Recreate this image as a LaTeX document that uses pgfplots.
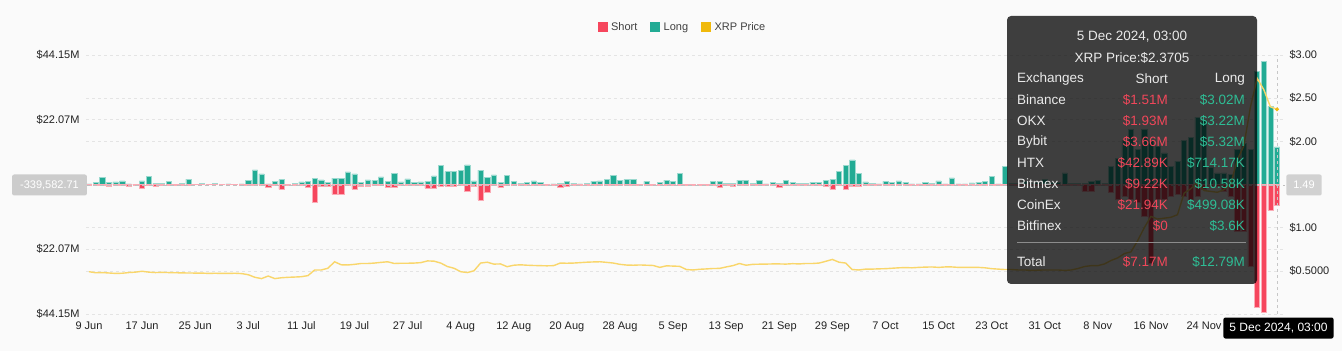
\documentclass[border=0pt]{standalone}
\usepackage{pgfplots}
\pgfplotsset{compat=1.18}
\usepackage{pgfplotstable}
\usepackage{fontspec}
\setmainfont{Liberation Sans}
\definecolor{shortc}{HTML}{F6465D}
\definecolor{longc}{HTML}{22AB94}
\definecolor{pricec}{HTML}{F9D66B}
\definecolor{pricelg}{HTML}{F0B90B}
\definecolor{bgc}{HTML}{FAFAFA}
\definecolor{gridc}{HTML}{E4E4E4}
\definecolor{tickc}{HTML}{222222}
\definecolor{tipred}{HTML}{F0475A}
\definecolor{tipgreen}{HTML}{2EBD95}
\definecolor{tiptext}{HTML}{EAEAEA}

\pgfplotstableread{
d long short price
0 0.25 -0.1 0.490
1 0.68 -0.2 0.478
2 2.4 -0.1 0.480
3 0.7 -0.45 0.475
4 0.9 -0.1 0.470
5 1.25 -0.1 0.472
6 0.25 -0.7 0.480
7 0.1 -0.1 0.485
8 1.25 -1.3 0.495
9 2.7 -0.15 0.485
10 0.3 -0.6 0.480
11 0.45 -0.1 0.482
12 1.1 -0.15 0.480
13 0.1 -0.1 0.478
14 0.45 -0.1 0.476
15 1.8 -0.1 0.475
16 0.1 -0.05 0.474
17 0.3 -0.05 0.474
18 0.1 -0.05 0.470
19 0.4 -0.05 0.472
20 0.15 -0.05 0.470
21 0.2 -0.05 0.470
22 0.15 -0.05 0.472
23 0.2 -0.1 0.468
24 1.36 -0.1 0.455
25 5.0 -0.2 0.425
26 3.6 -0.2 0.410
27 0.2 -0.8 0.440
28 1.13 -0.1 0.410
29 1.7 -1.6 0.420
30 0.1 -0.1 0.425
31 0.34 -0.1 0.428
32 0.9 -0.2 0.432
33 1.1 -1.0 0.445
34 2.2 -5.9 0.510
35 1.6 -0.6 0.510
36 0.7 -0.6 0.530
37 2.2 -3.4 0.605
38 2.0 -3.3 0.570
39 4.3 -0.4 0.568
40 3.6 -1.6 0.575
41 0.7 -0.6 0.585
42 1.6 -0.6 0.585
43 1.4 -0.4 0.590
44 2.6 -0.2 0.598
45 1.1 -0.8 0.605
46 3.9 -1.0 0.585
47 0.9 -0.4 0.588
48 1.9 -0.2 0.588
49 0.7 -0.2 0.590
50 0.9 -0.2 0.595
51 1.1 -1.2 0.615
52 2.9 -1.2 0.612
53 6.6 -0.5 0.590
54 4.4 -0.5 0.550
55 4.4 -0.7 0.530
56 4.9 -0.2 0.490
57 6.7 -2.4 0.480
58 1.2 -0.6 0.500
59 4.9 -5.2 0.590
60 2.4 -2.8 0.600
61 3.3 -0.2 0.578
62 0.7 -1.1 0.580
63 3.1 -0.2 0.548
64 1.1 -0.4 0.565
65 0.4 -0.3 0.570
66 0.8 -0.2 0.565
67 1.2 -0.2 0.562
68 0.7 -0.3 0.560
69 0.1 -0.1 0.558
70 0.2 -0.4 0.560
71 0.4 -1.1 0.590
72 1.1 -0.6 0.588
73 0.5 -0.1 0.590
74 0.2 -0.1 0.595
75 0.3 -0.4 0.600
76 1.1 -0.2 0.603
77 1.25 -0.1 0.605
78 1.7 -0.1 0.598
79 3.1 -0.2 0.590
80 1.5 -0.2 0.575
81 1.7 -0.1 0.567
82 1.7 -0.1 0.565
83 0.1 -0.1 0.568
84 1.1 -0.1 0.565
85 0.1 -0.3 0.562
86 0.8 -0.1 0.540
87 1.5 -0.2 0.558
88 1.1 -0.2 0.555
89 3.9 -0.1 0.552
90 0.1 -0.3 0.515
91 0.1 -0.3 0.510
92 0.1 -0.4 0.518
93 0.1 -0.1 0.522
94 1.0 -0.2 0.527
95 1.0 -0.8 0.528
96 0.4 -0.2 0.545
97 0.4 -0.5 0.560
98 1.5 -0.2 0.585
99 1.5 -0.2 0.565
100 0.4 -0.2 0.575
101 1.5 -0.2 0.577
102 0.2 -0.1 0.578
103 0.7 -0.2 0.580
104 0.45 -0.9 0.580
105 1.4 -0.2 0.578
106 0.7 -0.1 0.583
107 0.45 -0.1 0.580
108 0.35 -0.1 0.585
109 0.7 -0.1 0.585
110 0.7 -0.2 0.590
111 1.4 -0.45 0.610
112 1.7 -1.7 0.632
113 4.4 -0.2 0.600
114 6.6 -1.5 0.590
115 8.4 -0.45 0.515
116 3.9 -0.7 0.510
117 0.9 -0.2 0.520
118 0.45 -0.1 0.520
119 0.2 -0.1 0.523
120 1.1 -0.2 0.525
121 0.7 -0.15 0.530
122 1.25 -0.2 0.535
123 0.8 -0.1 0.538
124 0.2 -0.1 0.535
125 0.2 -0.1 0.540
126 0.8 -0.2 0.543
127 0.45 -0.2 0.545
128 1.25 -0.1 0.540
129 0.2 -0.1 0.545
130 2.3 -0.1 0.545
131 0.2 -0.1 0.540
132 0.2 -0.1 0.540
133 0.55 -0.2 0.540
134 0.8 -0.3 0.540
135 1.1 -0.1 0.535
136 2.7 -0.2 0.525
137 0.2 -0.1 0.520
138 6.1 -0.3 0.515
139 0.5 -0.2 0.515
140 0.4 -0.2 0.510
141 1.0 -0.2 0.510
142 0.5 -0.2 0.505
143 0.8 -0.2 0.508
144 1.7 -0.2 0.510
145 0.6 -0.2 0.510
146 0.8 -0.2 0.510
147 4.0 -0.3 0.505
148 0.5 -0.2 0.510
149 0.4 -0.3 0.527
150 0.3 -2.3 0.550
151 1.1 -2.3 0.560
152 1.5 -0.3 0.560
153 0.4 -0.3 0.580
154 6.2 -2.8 0.620
155 9.0 -5.0 0.650
156 15.0 -4.0 0.700
157 18.7 -5.0 0.720
158 12.0 -6.0 0.850
159 18.7 -10.8 1.000
160 15.0 -27.0 1.130
161 13.0 -5.0 1.100
162 10.8 -5.0 1.110
163 6.2 -4.0 1.120
164 8.0 -3.4 1.150
165 15.0 -4.0 1.400
166 16.0 -5.0 1.450
167 23.0 -4.0 1.520
168 22.0 -1.7 1.430
169 6.0 -0.5 1.420
170 4.0 -0.5 1.410
171 4.0 -2.3 1.440
172 3.4 -4.0 1.500
173 12.0 -16.0 1.780
174 14.0 -16.0 1.950
175 12.0 -28.0 2.400
176 38.5 -42.0 2.730
177 41.9 -43.5 2.600
178 26.6 -8.8 2.400
179 12.79 -7.17 2.3705
}\liq

\newcommand{\tickf}{\fontsize{11}{13}\selectfont}
\newcommand{\tipf}{\fontsize{13.5}{16}\selectfont}

\begin{document}
\begin{tikzpicture}[x=1pt,y=1pt]
\fill[bgc] (0,0) rectangle (1342,351);
\useasboundingbox (0,0) rectangle (1342,351);

\begin{axis}[
  at={(86pt,37pt)}, anchor=south west,
  scale only axis, width=1199pt, height=259pt,
  xmin=-0.45, xmax=180.2, ymin=-44.15, ymax=44.15,
  axis line style={draw=none},
  major tick style={draw=none}, minor tick style={draw=none},
  xtick={0,8,...,168},
  xticklabels={9 Jun,17 Jun,25 Jun,3 Jul,11 Jul,19 Jul,27 Jul,4 Aug,12 Aug,20 Aug,28 Aug,5 Sep,13 Sep,21 Sep,29 Sep,7 Oct,15 Oct,23 Oct,31 Oct,8 Nov,16 Nov,24 Nov},
  ytick={-44.15,-22.07,22.07,44.15},
  yticklabels={\$44.15M,\$22.07M,\$22.07M,\$44.15M},
  extra y ticks={-29.43,-14.72,14.72,29.43},
  extra y tick labels={},
  extra y tick style={grid=major},
  ymajorgrids=true,
  grid style={gridc, dash pattern=on 3pt off 3pt, line width=0.6pt},
  tick label style={font=\tickf, text=tickc},
  yticklabel style={xshift=-3pt},
  xticklabel style={yshift=-4pt},
  legend style={at={(0.4975,1)}, anchor=center, yshift=28pt, draw=none, fill=none,
    font=\tickf, text=black!75, legend columns=3,
    /tikz/every odd column/.append style={column sep=2pt},
    /tikz/every even column/.append style={column sep=11pt}},
]
\addplot[ybar, bar width=5.2pt, bar shift=0pt, fill=longc, draw=longc!45!white, line width=0.5pt, forget plot] table[x=d,y=long]{\liq};
\addplot[ybar, bar width=5.2pt, bar shift=0pt, fill=shortc, draw=shortc!45!white, line width=0.5pt, forget plot] table[x=d,y=short]{\liq};
\draw[black!25, dash pattern=on 4pt off 3pt, line width=0.8pt] (axis cs:-0.45,-0.34) -- (axis cs:180.2,-0.34);
\draw[black!22, dash pattern=on 3pt off 3pt, line width=0.8pt] (axis cs:179.1,-44.15) -- (axis cs:179.1,44.15);
\addlegendimage{legend image code/.code={\fill[shortc] (0pt,-4.5pt) rectangle (9pt,4.5pt);}}
\addlegendentry{Short}
\addlegendimage{legend image code/.code={\fill[longc] (0pt,-4.5pt) rectangle (9pt,4.5pt);}}
\addlegendentry{Long}
\addlegendimage{legend image code/.code={\fill[pricelg] (0pt,-4.5pt) rectangle (9pt,4.5pt);}}
\addlegendentry{XRP Price}
\end{axis}

\begin{axis}[
  at={(86pt,37pt)}, anchor=south west,
  scale only axis, width=1199pt, height=259pt,
  xmin=-0.45, xmax=180.2, ymin=0, ymax=3,
  axis x line=none, axis y line*=right,
  axis line style={draw=none},
  major tick style={draw=none}, minor tick style={draw=none},
  ytick={0.5,1,2,2.5,3},
  yticklabels={\$0.5000,\$1.00,\$2.00,\$2.50,\$3.00},
  tick label style={font=\tickf, text=tickc},
  yticklabel style={xshift=1pt},
]
\addplot[pricec, line width=1.4pt] table[x=d,y=price]{\liq};
\addplot[only marks, mark=*, mark size=1.8pt, pricelg] coordinates {(179,2.3705)};
\end{axis}

% crosshair labels
\node[fill=black!20, rounded corners=2pt, text=white, font=\tickf, inner xsep=8pt, minimum height=21pt] at (49.5,166) {-339,582.71};
\node[fill=black!18, rounded corners=2pt, text=white, font=\tickf, inner xsep=7pt, minimum height=21pt] at (1304,166) {1.49};
\node[fill=black, rounded corners=2pt, text=white, font=\fontsize{12}{14}\selectfont, inner xsep=6pt, minimum height=21pt] at (1278.5,23) {5 Dec 2024, 03:00};

% tooltip
\fill[black, fill opacity=0.75, rounded corners=4pt] (1007,67) rectangle (1257,335);
\node[text=tiptext, font=\tipf] at (1132,314) {5 Dec 2024, 03:00};
\node[text=tiptext, font=\tipf] at (1132,293) {XRP Price:\$2.3705};
\node[text=tiptext, font=\tipf, anchor=west, inner xsep=0pt] at (1017,272) {Exchanges};
\node[text=tiptext, font=\tipf, anchor=east, inner xsep=0pt] at (1168,272) {Short};
\node[text=tiptext, font=\tipf, anchor=east, inner xsep=0pt] at (1245,272) {Long};
\foreach \n/\s/\l [count=\i] in {Binance/\$1.51M/\$3.02M, OKX/\$1.93M/\$3.22M, Bybit/\$3.66M/\$5.32M, HTX/\$42.89K/\$714.17K, Bitmex/\$9.22K/\$10.58K, CoinEx/\$21.94K/\$499.08K, Bitfinex/\$0/\$3.6K}{
  \node[text=tiptext, font=\tipf, anchor=west, inner xsep=0pt] at (1017,272-21*\i) {\n};
  \node[text=tipred, font=\tipf, anchor=east, inner xsep=0pt] at (1168,272-21*\i) {\s};
  \node[text=tipgreen, font=\tipf, anchor=east, inner xsep=0pt] at (1245,272-21*\i) {\l};
}
\draw[black!45, line width=1pt] (1017,108) -- (1246,108);
\node[text=tiptext, font=\tipf, anchor=west, inner xsep=0pt] at (1017,89) {Total};
\node[text=tipred, font=\tipf, anchor=east, inner xsep=0pt] at (1168,89) {\$7.17M};
\node[text=tipgreen, font=\tipf, anchor=east, inner xsep=0pt] at (1245,89) {\$12.79M};
\end{tikzpicture}
\end{document}
